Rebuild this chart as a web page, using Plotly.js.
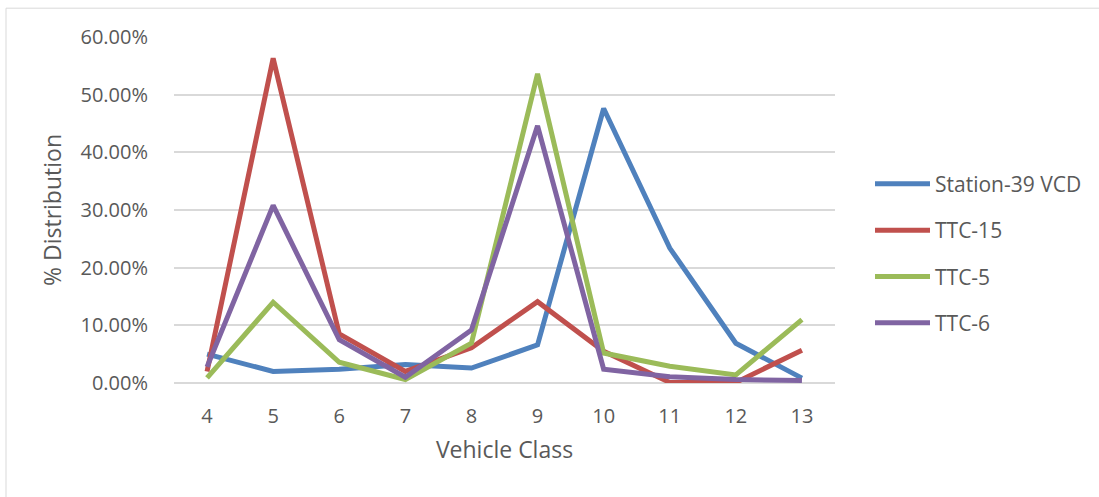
<!DOCTYPE html>
<html>
<head>
<meta charset="utf-8">
<script src="https://cdn.plot.ly/plotly-3.0.1.min.js"></script>
<style>
  html, body { margin: 0; padding: 0; background: #ffffff; }
  #chart { width: 1099px; height: 497px; }
</style>
</head>
<body>
<div id="chart"></div>
<script>
// Vehicle classes on the x axis
const vehicleClasses = ['4', '5', '6', '7', '8', '9', '10', '11', '12', '13'];

// Share of each vehicle class, in percent
const station39VCD = [5.0, 2.0, 2.4, 3.2, 2.6, 6.6, 47.6, 23.4, 6.9, 0.85];
const ttc15 = [2.0, 56.3, 8.5, 2.0, 6.1, 14.1, 5.5, 0.1, 0.1, 5.7];
const ttc5 = [0.9, 14.0, 3.6, 0.6, 6.9, 53.6, 5.2, 2.9, 1.4, 11.0];
const ttc6 = [2.8, 30.8, 7.5, 1.0, 9.2, 44.6, 2.4, 1.1, 0.6, 0.45];

const seriesNames = ['Station-39 VCD', 'TTC-15', 'TTC-5', 'TTC-6'];
const seriesValues = [station39VCD, ttc15, ttc5, ttc6];
const seriesColors = ['#4f81bd', '#c0504d', '#9bbb59', '#8064a2'];

const font = "'Open Sans', Lato, sans-serif";
const textGrey = '#595959';

const traces = seriesNames.map((name, i) => ({
  type: 'scatter',
  mode: 'lines',
  name: name,
  legendgroup: name,
  x: vehicleClasses,
  y: seriesValues[i],
  line: { color: seriesColors[i], width: 5 },
  hoverinfo: 'x+y+name'
}));

// plot box: left 174, right 835, top 37.3, bottom 383.3
const plotL = 174, plotR = 835, plotT = 37.3, plotB = 383.3;
const pw = plotR - plotL, ph = plotB - plotT;
const px = v => (v - plotL) / pw;
const py = v => (plotB - v) / ph;

const layout = {
  width: 1099,
  height: 497,
  margin: { l: plotL, r: 1099 - plotR, t: plotT, b: 497 - plotB, pad: 0 },
  paper_bgcolor: '#ffffff',
  plot_bgcolor: '#ffffff',
  font: { family: font, color: textGrey, size: 20 },
  showlegend: true,
  legend: {
    x: px(870), xanchor: 'left',
    y: py(254), yanchor: 'middle',
    font: { family: font, size: 21, color: textGrey },
    tracegroupgap: 16,
    itemwidth: 55,
    bgcolor: 'rgba(0,0,0,0)'
  },
  xaxis: {
    type: 'category',
    range: [-0.5, 9.5],
    showgrid: false,
    zeroline: false,
    showline: false,
    ticks: 'outside',
    ticklen: 15,
    tickcolor: 'rgba(0,0,0,0)',
    tickfont: { family: font, size: 20, color: textGrey },
    title: { text: 'Vehicle Class', font: { family: font, size: 23, color: textGrey }, standoff: 13 },
    fixedrange: true
  },
  yaxis: {
    range: [0, 60],
    dtick: 10,
    tick0: 0,
    tickformat: '.2f',
    ticksuffix: '%',
    showgrid: true,
    gridcolor: '#d9d9d9',
    gridwidth: 2,
    zeroline: true,
    zerolinecolor: '#d9d9d9',
    zerolinewidth: 2,
    showline: false,
    ticks: 'outside',
    ticklen: 21,
    tickcolor: 'rgba(0,0,0,0)',
    tickfont: { family: font, size: 20, color: textGrey },
    title: { text: '% Distribution', font: { family: font, size: 23, color: textGrey }, standoff: 12 },
    fixedrange: true
  },
  shapes: [{
    type: 'rect',
    xref: 'paper', yref: 'paper',
    x0: px(6), x1: px(1110),
    y0: py(505), y1: py(8.5),
    line: { color: '#d9d9d9', width: 1 },
    fillcolor: 'rgba(0,0,0,0)',
    layer: 'below'
  }]
};

Plotly.newPlot('chart', traces, layout, { displayModeBar: false, staticPlot: true });
</script>
</body>
</html>
